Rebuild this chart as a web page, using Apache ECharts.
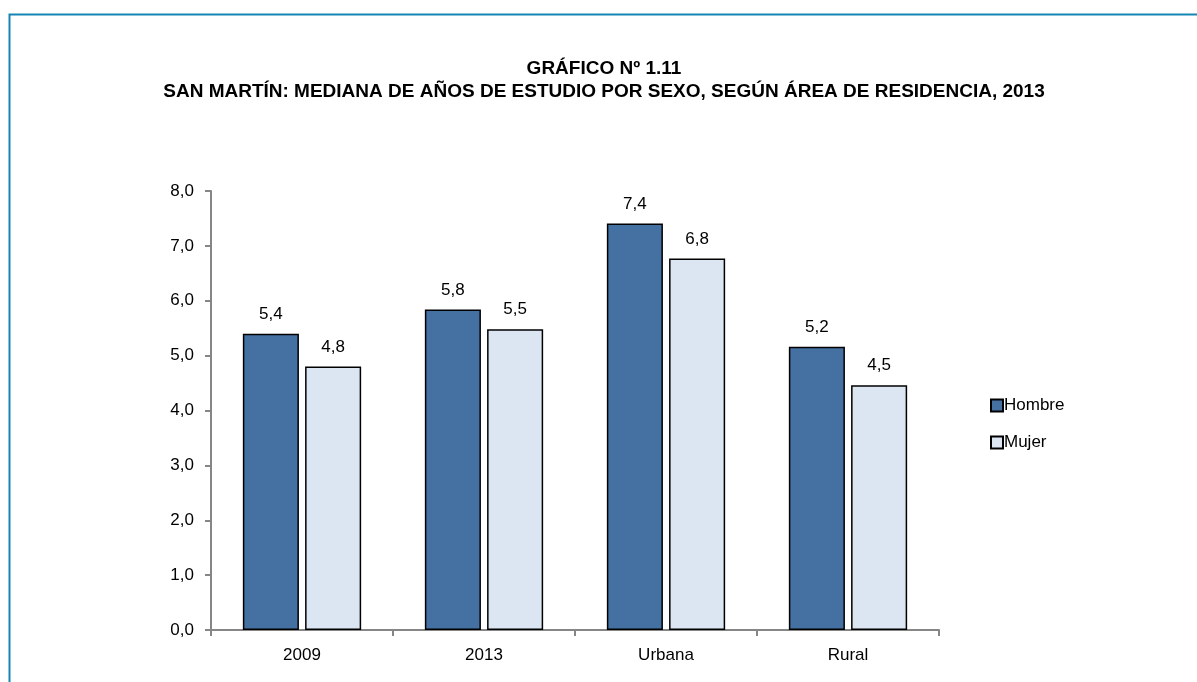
<!DOCTYPE html>
<html>
<head>
<meta charset="utf-8">
<script src="https://cdn.jsdelivr.net/npm/echarts@6/dist/echarts.min.js"></script>
<style>
  html, body { margin: 0; padding: 0; background: #fff; }
  #chart { width: 1197px; height: 682px; }
</style>
</head>
<body>
<div id="chart"></div>
<script>
// datos del gráfico
var categorias = ['2009', '2013', 'Urbana', 'Rural'];
var hombre = [5.4, 5.84, 7.41, 5.16];
var mujer = [4.8, 5.48, 6.77, 4.46];
var ticksY = [0, 1, 2, 3, 4, 5, 6, 7, 8];

var fuente = '"Liberation Sans", Arial, sans-serif';

function coma(v, dec) {
    return Number(v).toFixed(dec).replace('.', ',');
}

var myChart = echarts.init(document.getElementById('chart'));

var option = {
    backgroundColor: '#fff',
    animation: false,
    title: {
        text: 'GRÁFICO Nº 1.11\nSAN MARTÍN: MEDIANA DE AÑOS DE ESTUDIO POR SEXO, SEGÚN ÁREA DE RESIDENCIA, 2013',
        left: 599,
        textAlign: 'center',
        top: 52,
        textStyle: {
            fontFamily: fuente,
            fontSize: 19,
            fontWeight: 'bold',
            color: '#000',
            lineHeight: 23
        }
    },
    legend: {
        orient: 'vertical',
        left: 985,
        top: 392,
        itemWidth: 12,
        itemHeight: 12,
        itemGap: 20,
        icon: 'rect',
        data: ['Hombre', 'Mujer'],
        textStyle: { fontFamily: fuente, fontSize: 17, color: '#000', padding: [0, 0, 0, -4] }
    },
    graphic: [{
        type: 'rect',
        shape: { x: 9.5, y: 14.5, width: 1300, height: 800 },
        style: { fill: 'none', stroke: '#1585b3', lineWidth: 2 },
        silent: true
    }],
    grid: { left: 211, right: 258, top: 191, bottom: 52 },
    xAxis: {
        type: 'category',
        data: categorias,
        axisLine: { lineStyle: { color: '#868686', width: 2 } },
        axisTick: { show: true, length: 6, lineStyle: { color: '#868686', width: 2 } },
        axisLabel: { color: '#000', fontFamily: fuente, fontSize: 17, margin: 17 }
    },
    yAxis: {
        type: 'value',
        min: ticksY[0],
        max: ticksY[ticksY.length - 1],
        interval: 1,
        axisLine: { show: true, lineStyle: { color: '#868686', width: 2 } },
        axisTick: { show: true, length: 6, lineStyle: { color: '#868686', width: 2 } },
        splitLine: { show: false },
        axisLabel: {
            color: '#000', fontFamily: fuente, fontSize: 17, margin: 17,
            formatter: function (v) { return coma(v, 1); }
        }
    },
    series: [{
        name: 'Hombre',
        type: 'bar',
        data: hombre,
        barGap: '11%',
        barCategoryGap: '35%',
        itemStyle: { color: '#4470a2', borderColor: '#000', borderWidth: 1.5 },
        label: {
            show: true, position: 'top', distance: 11,
            color: '#000', fontFamily: fuente, fontSize: 17,
            formatter: function (p) { return coma(p.value, 1); }
        }
    }, {
        name: 'Mujer',
        type: 'bar',
        data: mujer,
        itemStyle: { color: '#dce6f2', borderColor: '#000', borderWidth: 1.5 },
        label: {
            show: true, position: 'top', distance: 11,
            color: '#000', fontFamily: fuente, fontSize: 17,
            formatter: function (p) { return coma(p.value, 1); }
        }
    }]
};

myChart.setOption(option);
</script>
</body>
</html>
